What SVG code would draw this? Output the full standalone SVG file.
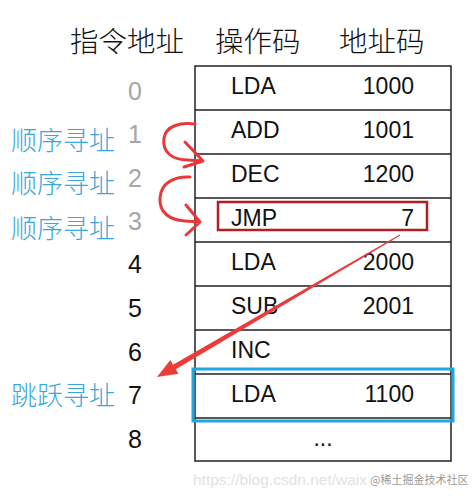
<svg xmlns="http://www.w3.org/2000/svg" width="473" height="496" viewBox="0 0 473 496">
<style>
.hdr{font-family:"Noto Sans CJK SC","Noto Sans",sans-serif;font-size:28.5px;font-weight:300;fill:#111}
.cell{font-family:"Liberation Sans",Arial,sans-serif;font-size:23px;fill:#111}
.num{font-family:"Liberation Sans",Arial,sans-serif;font-size:25px;text-anchor:middle}
.g{fill:#a6a6a6}
.k{fill:#111}
.lbl{font-family:"Noto Sans CJK SC",sans-serif;font-size:26px;font-weight:300;fill:#3aa6da}
.grid{stroke:#222;stroke-width:1.5;fill:none}
.curl{fill:none;stroke:#e8383a;stroke-width:3;stroke-linecap:round;stroke-linejoin:round}
</style>
<rect width="473" height="496" fill="#fff"/>
<g id="headers">
<text class="hdr" x="70" y="52">指令地址</text>
<text class="hdr" x="215" y="52">操作码</text>
<text class="hdr" x="339" y="52">地址码</text>
</g>
<g id="table">
<rect class="grid" x="195" y="66" width="256" height="395"/>
<path class="grid" d="M195 110H451M195 154H451M195 198H451M195 242H451M195 286H451M195 330H451M195 374H451M195 418H451"/>
</g>
<g id="row0"><text class="cell" x="231" y="94">LDA</text><text class="cell" x="414" y="94" text-anchor="end">1000</text></g>
<g id="row1"><text class="cell" x="231" y="138">ADD</text><text class="cell" x="414" y="138" text-anchor="end">1001</text></g>
<g id="row2"><text class="cell" x="231" y="182">DEC</text><text class="cell" x="414" y="182" text-anchor="end">1200</text></g>
<g id="row3"><text class="cell" x="231" y="226">JMP</text><text class="cell" x="414" y="226" text-anchor="end">7</text>
<rect x="218" y="202" width="209" height="28" fill="none" stroke="#b01f24" stroke-width="2.5"/></g>
<g id="row4"><text class="cell" x="231" y="270">LDA</text><text class="cell" x="414" y="270" text-anchor="end">2000</text></g>
<g id="row5"><text class="cell" x="231" y="314">SUB</text><text class="cell" x="414" y="314" text-anchor="end">2001</text></g>
<g id="row6"><text class="cell" x="231" y="358">INC</text></g>
<g id="row7"><text class="cell" x="231" y="402">LDA</text><text class="cell" x="414" y="402" text-anchor="end">1100</text>
<rect x="193" y="369" width="260" height="52" fill="none" stroke="#1ea7e1" stroke-width="3"/></g>
<g id="row8"><text class="cell" x="323" y="446" text-anchor="middle">...</text></g>
<g id="addresses">
<text class="num g" x="135" y="100">0</text>
<text class="num g" x="135" y="143">1</text>
<text class="num g" x="135" y="187">2</text>
<text class="num g" x="135" y="230">3</text>
<text class="num k" x="135" y="273">4</text>
<text class="num k" x="135" y="317">5</text>
<text class="num k" x="135" y="361">6</text>
<text class="num k" x="135" y="404">7</text>
<text class="num k" x="135" y="448">8</text>
</g>
<g id="labels">
<text class="lbl" x="11" y="150">顺序寻址</text>
<text class="lbl" x="11" y="193">顺序寻址</text>
<text class="lbl" x="11" y="238">顺序寻址</text>
<text class="lbl" x="11" y="405">跳跃寻址</text>
</g>
<g id="connectors">
<path class="curl" d="M195 124C180 122 166 126 164 138C162 152 172 160 188 160L203 161M185 142L203 161L184 167"/>
<path class="curl" d="M190 177C174 176 161 183 160 198C159 213 170 220 185 221L200 222M186 205L200 222L186 235"/>
<polygon fill="#ec3b3b" points="400.3,235.4 175.8,369.3 178.3,373.8 157,377 170.3,360 173,364.7 399.7,234.6"/>
</g>
<g id="watermark">
<text x="193" y="485" font-family="Liberation Sans,Arial,sans-serif" font-size="15.5" fill="#e2e2e2">https://blog.csdn.net/waix</text>
<text x="370" y="484" font-family="Noto Sans CJK SC,sans-serif" font-size="11" fill="#9a9a9a">@稀土掘金技术社区</text>
</g>
</svg>
